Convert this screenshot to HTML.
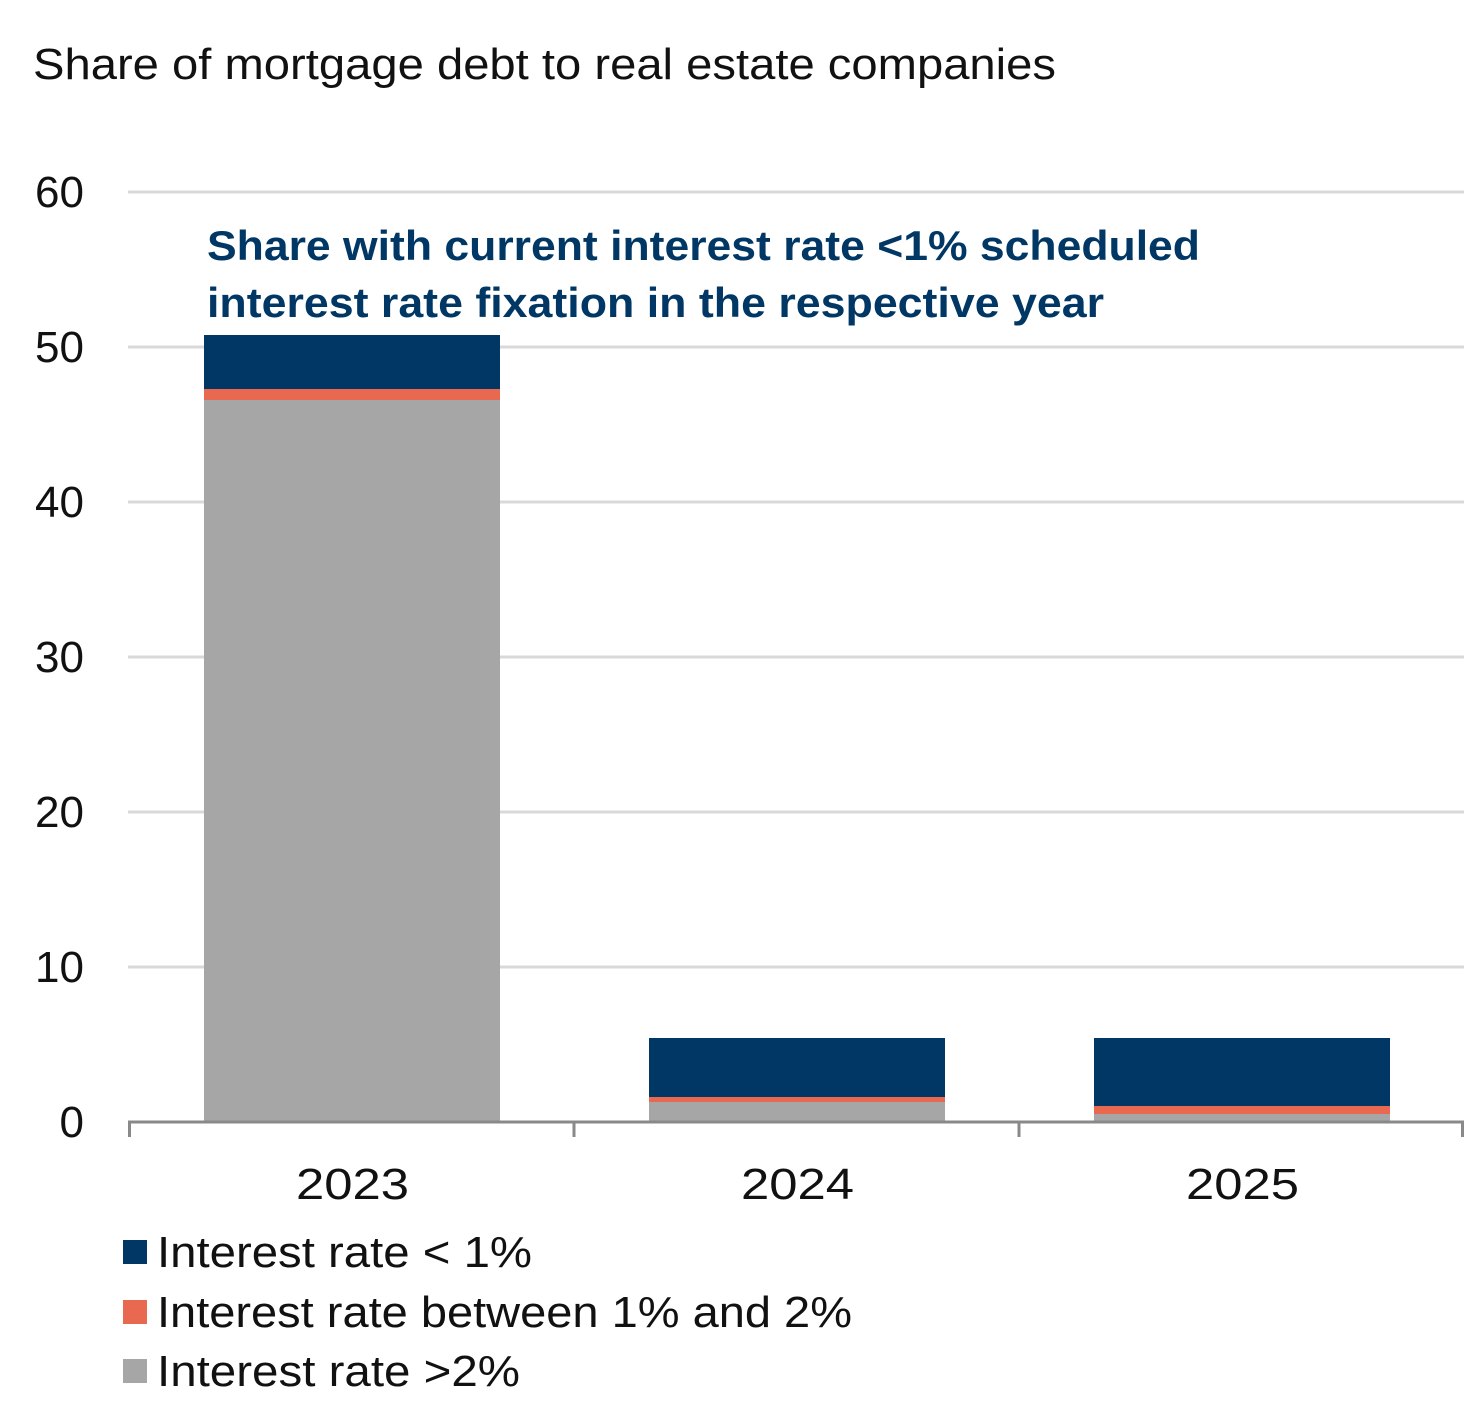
<!DOCTYPE html>
<html><head><meta charset="utf-8"><style>
body{margin:0;background:#fff;}
svg text{font-family:"Liberation Sans",sans-serif;}
</style></head><body>
<svg width="1466" height="1411" xmlns="http://www.w3.org/2000/svg">
<text x="33" y="79" font-size="44" fill="#111" textLength="1023" lengthAdjust="spacingAndGlyphs">Share of mortgage debt to real estate companies</text>
<g stroke="#d9d9d9" stroke-width="3">
<line x1="128" x2="1464" y1="192" y2="192"/>
<line x1="128" x2="1464" y1="347" y2="347"/>
<line x1="128" x2="1464" y1="502" y2="502"/>
<line x1="128" x2="1464" y1="657" y2="657"/>
<line x1="128" x2="1464" y1="812" y2="812"/>
<line x1="128" x2="1464" y1="967" y2="967"/>
</g>
<g font-size="44" fill="#111" text-anchor="end">
<text x="84" y="207">60</text><text x="84" y="362">50</text><text x="84" y="517">40</text>
<text x="84" y="672">30</text><text x="84" y="827">20</text><text x="84" y="982">10</text><text x="84" y="1137">0</text>
</g>
<rect x="204" y="335" width="296" height="54" fill="#003764"/>
<rect x="204" y="389" width="296" height="11" fill="#e8694f"/>
<rect x="204" y="400" width="296" height="721" fill="#a6a6a6"/>
<rect x="649" y="1038" width="296" height="59" fill="#003764"/>
<rect x="649" y="1097" width="296" height="5" fill="#e8694f"/>
<rect x="649" y="1102" width="296" height="19" fill="#a6a6a6"/>
<rect x="1094" y="1038" width="296" height="68" fill="#003764"/>
<rect x="1094" y="1106" width="296" height="8" fill="#e8694f"/>
<rect x="1094" y="1114" width="296" height="7" fill="#a6a6a6"/>
<g stroke="#898989" stroke-width="3">
<line x1="128" x2="1464" y1="1122" y2="1122"/>
<line x1="129.5" x2="129.5" y1="1122" y2="1137"/>
<line x1="574" x2="574" y1="1122" y2="1137"/>
<line x1="1019" x2="1019" y1="1122" y2="1137"/>
<line x1="1462.5" x2="1462.5" y1="1122" y2="1137"/>
</g>
<g font-size="44" fill="#111">
<text x="296" y="1199" textLength="113" lengthAdjust="spacingAndGlyphs">2023</text>
<text x="741" y="1199" textLength="113" lengthAdjust="spacingAndGlyphs">2024</text>
<text x="1186" y="1199" textLength="113" lengthAdjust="spacingAndGlyphs">2025</text>
</g>
<g font-size="42" fill="#003764" font-weight="bold">
<text x="207" y="260" textLength="993" lengthAdjust="spacingAndGlyphs">Share with current interest rate &lt;1% scheduled</text>
<text x="207" y="317" textLength="897" lengthAdjust="spacingAndGlyphs">interest rate fixation  in the respective year</text>
</g>
<rect x="123" y="1240" width="24" height="24" fill="#003764"/>
<rect x="123" y="1300" width="24" height="24" fill="#e8694f"/>
<rect x="123" y="1359" width="24" height="24" fill="#a6a6a6"/>
<g font-size="44" fill="#111">
<text x="157" y="1267" textLength="375" lengthAdjust="spacingAndGlyphs">Interest rate &lt; 1%</text>
<text x="157" y="1327" textLength="695" lengthAdjust="spacingAndGlyphs">Interest rate between 1% and 2%</text>
<text x="157" y="1386" textLength="363" lengthAdjust="spacingAndGlyphs">Interest rate &gt;2%</text>
</g>
</svg>
</body></html>
